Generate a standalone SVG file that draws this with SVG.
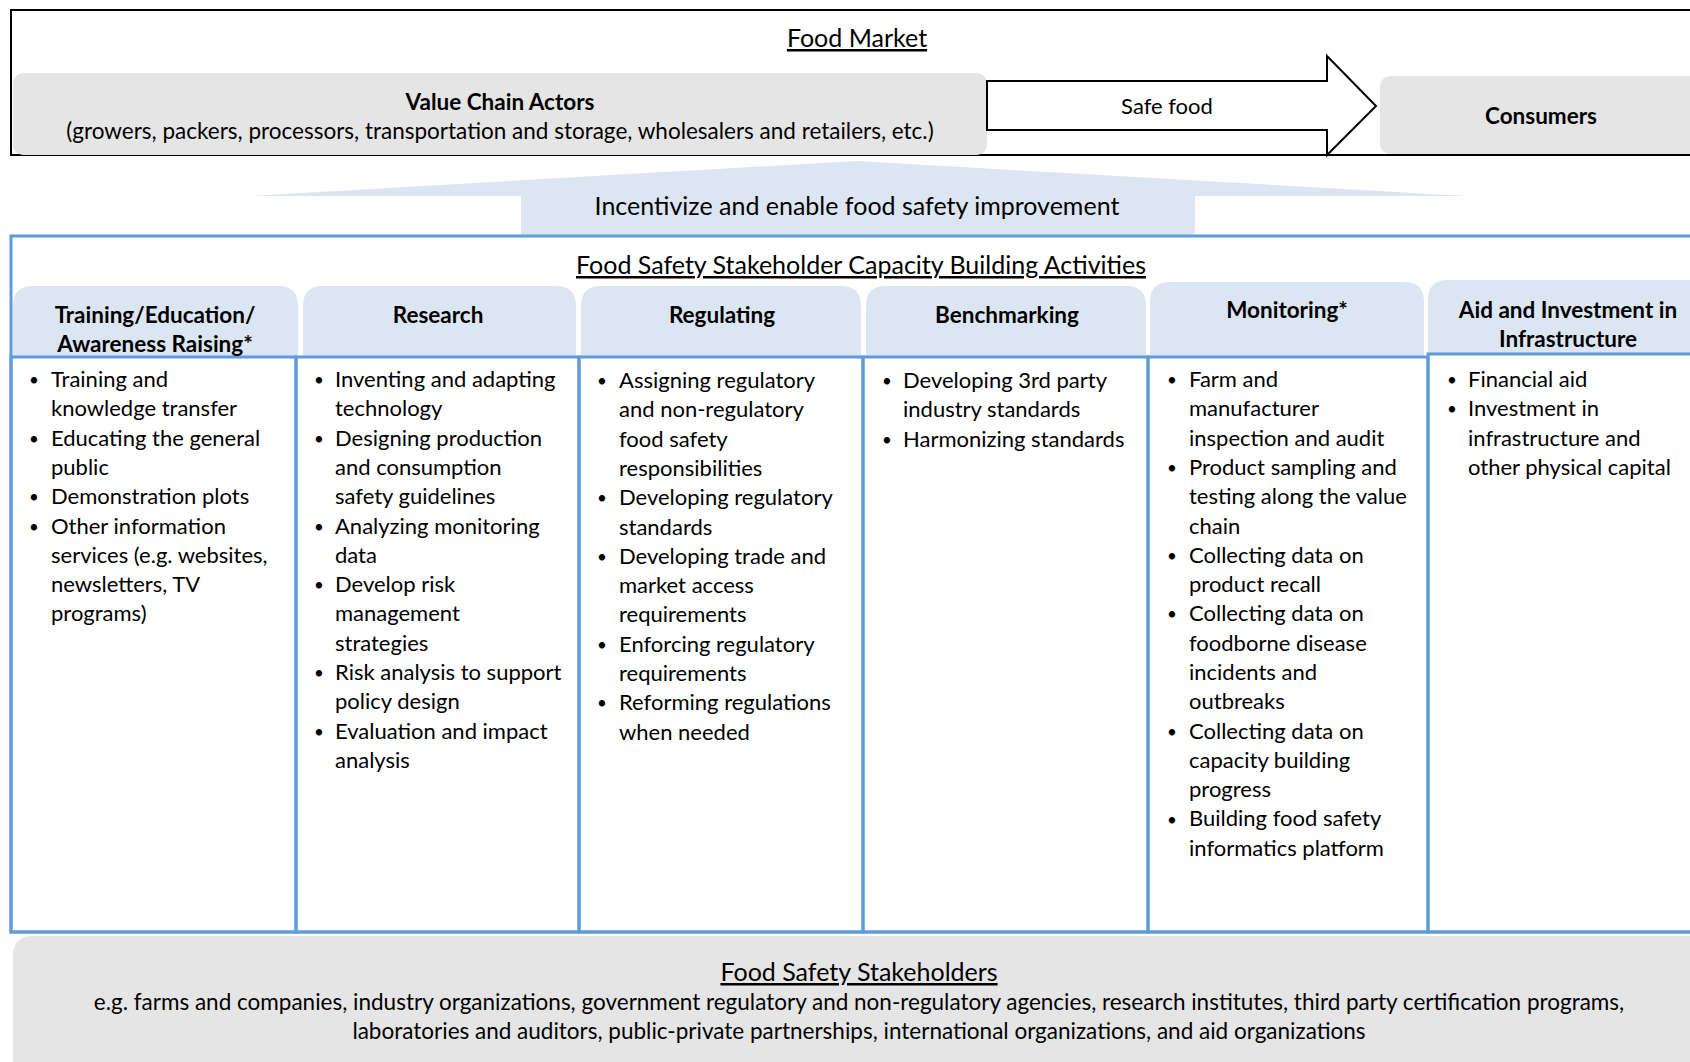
<svg xmlns="http://www.w3.org/2000/svg" width="1690" height="1062" viewBox="0 0 1690 1062">
<style>
text{font-family:Lato,"Liberation Sans",sans-serif;fill:#000}
.t{font-size:22px}
.b{font-size:17px}
.h{font-size:22.5px;font-weight:bold;text-anchor:middle}
.big{font-size:25px;text-anchor:middle}
.u{text-decoration:underline}
.mid{font-size:22.5px;text-anchor:middle}
.grey{fill:#e5e5e5}
.tab{fill:#dce6f2}
.box{fill:none;stroke:#5f9bd8;stroke-width:3}
</style>
<rect width="1690" height="1062" fill="#fff"/>

<g id="food-market">
<rect x="11" y="10" width="1700" height="145" fill="#fff" stroke="#000" stroke-width="2"/>
<text class="big u" x="857" y="47">Food Market</text>
</g>

<g id="value-chain-actors">
<rect class="grey" x="13" y="73" width="974" height="82" rx="10"/>
<text class="mid" x="500" y="110" font-weight="bold">Value Chain Actors</text>
<text class="mid" x="500" y="139">(growers, packers, processors, transportation and storage, wholesalers and retailers, etc.)</text>
</g>

<g id="consumers">
<rect class="grey" x="1380" y="76" width="330" height="78" rx="10"/>
<text class="h" x="1541" y="124">Consumers</text>
</g>

<g id="connectors">
<g id="safe-food">
<polygon points="987,81 1327,81 1327,56 1376,106 1327,155 1327,130 987,130" fill="#fff" stroke="#000" stroke-width="2" stroke-linejoin="miter"/>
<text class="t" x="1167" y="114" text-anchor="middle">Safe food</text>
</g>
<g id="incentivize">
<polygon points="250,196 857,161 1466,196 1195,196 1195,235 521,235 521,196" fill="#dce6f2"/>
<text class="big" x="857" y="215">Incentivize and enable food safety improvement</text>
</g>
</g>

<g id="capacity-activities">
<rect x="11" y="236" width="1700" height="696" fill="none" stroke="#5f9bd8" stroke-width="3"/>
<text class="big u" x="861" y="274">Food Safety Stakeholder Capacity Building Activities</text>
</g>

<g id="col-training">
<path class="tab" d="M13,357 V306 Q13,286 33,286 H278 Q298,286 298,306 V357 Z"/>
<rect class="box" x="11" y="357" width="285" height="575"/>
<text class="h" x="155" y="323">Training/Education/</text>
<text class="h" x="155" y="352">Awareness Raising*</text>
<text class="b" x="29" y="386">•<tspan x="29" dy="58.6">•</tspan><tspan x="29" dy="58.6">•</tspan><tspan x="29" dy="29.3">•</tspan></text>
<text class="t" x="51" y="387">Training and<tspan x="51" dy="29.3">knowledge transfer</tspan><tspan x="51" dy="29.3">Educating the general</tspan><tspan x="51" dy="29.3">public</tspan><tspan x="51" dy="29.3">Demonstration plots</tspan><tspan x="51" dy="29.3">Other information</tspan><tspan x="51" dy="29.3">services (e.g. websites,</tspan><tspan x="51" dy="29.3">newsletters, TV</tspan><tspan x="51" dy="29.3">programs)</tspan></text>
</g>

<g id="col-research">
<path class="tab" d="M303,357 V306 Q303,286 323,286 H556 Q576,286 576,306 V357 Z"/>
<rect class="box" x="296" y="357" width="283" height="575"/>
<text class="h" x="438" y="323">Research</text>
<text class="b" x="314" y="386">•<tspan x="314" dy="58.6">•</tspan><tspan x="314" dy="87.9">•</tspan><tspan x="314" dy="58.6">•</tspan><tspan x="314" dy="87.9">•</tspan><tspan x="314" dy="58.6">•</tspan></text>
<text class="t" x="335" y="387">Inventing and adapting<tspan x="335" dy="29.3">technology</tspan><tspan x="335" dy="29.3">Designing production</tspan><tspan x="335" dy="29.3">and consumption</tspan><tspan x="335" dy="29.3">safety guidelines</tspan><tspan x="335" dy="29.3">Analyzing monitoring</tspan><tspan x="335" dy="29.3">data</tspan><tspan x="335" dy="29.3">Develop risk</tspan><tspan x="335" dy="29.3">management</tspan><tspan x="335" dy="29.3">strategies</tspan><tspan x="335" dy="29.3">Risk analysis to support</tspan><tspan x="335" dy="29.3">policy design</tspan><tspan x="335" dy="29.3">Evaluation and impact</tspan><tspan x="335" dy="29.3">analysis</tspan></text>
</g>

<g id="col-regulating">
<path class="tab" d="M581,357 V306 Q581,286 601,286 H841 Q861,286 861,306 V357 Z"/>
<rect class="box" x="579" y="357" width="284" height="575"/>
<text class="h" x="722" y="323">Regulating</text>
<text class="b" x="597" y="387">•<tspan x="597" dy="117.2">•</tspan><tspan x="597" dy="58.6">•</tspan><tspan x="597" dy="87.9">•</tspan><tspan x="597" dy="58.6">•</tspan></text>
<text class="t" x="619" y="388">Assigning regulatory<tspan x="619" dy="29.3">and non-regulatory</tspan><tspan x="619" dy="29.3">food safety</tspan><tspan x="619" dy="29.3">responsibilities</tspan><tspan x="619" dy="29.3">Developing regulatory</tspan><tspan x="619" dy="29.3">standards</tspan><tspan x="619" dy="29.3">Developing trade and</tspan><tspan x="619" dy="29.3">market access</tspan><tspan x="619" dy="29.3">requirements</tspan><tspan x="619" dy="29.3">Enforcing regulatory</tspan><tspan x="619" dy="29.3">requirements</tspan><tspan x="619" dy="29.3">Reforming regulations</tspan><tspan x="619" dy="29.3">when needed</tspan></text>
</g>

<g id="col-benchmarking">
<path class="tab" d="M866,357 V306 Q866,286 886,286 H1126 Q1146,286 1146,306 V357 Z"/>
<rect class="box" x="863" y="357" width="285" height="575"/>
<text class="h" x="1007" y="323">Benchmarking</text>
<text class="b" x="882" y="387">•<tspan x="882" dy="58.6">•</tspan></text>
<text class="t" x="903" y="388">Developing 3rd party<tspan x="903" dy="29.3">industry standards</tspan><tspan x="903" dy="29.3">Harmonizing standards</tspan></text>
</g>

<g id="col-monitoring">
<path class="tab" d="M1150,357 V302 Q1150,282 1170,282 H1404 Q1424,282 1424,302 V357 Z"/>
<rect class="box" x="1148" y="357" width="280" height="575"/>
<text class="h" x="1287" y="318">Monitoring*</text>
<text class="b" x="1167" y="386">•<tspan x="1167" dy="87.9">•</tspan><tspan x="1167" dy="87.9">•</tspan><tspan x="1167" dy="58.6">•</tspan><tspan x="1167" dy="117.2">•</tspan><tspan x="1167" dy="87.9">•</tspan></text>
<text class="t" x="1189" y="387">Farm and<tspan x="1189" dy="29.3">manufacturer</tspan><tspan x="1189" dy="29.3">inspection and audit</tspan><tspan x="1189" dy="29.3">Product sampling and</tspan><tspan x="1189" dy="29.3">testing along the value</tspan><tspan x="1189" dy="29.3">chain</tspan><tspan x="1189" dy="29.3">Collecting data on</tspan><tspan x="1189" dy="29.3">product recall</tspan><tspan x="1189" dy="29.3">Collecting data on</tspan><tspan x="1189" dy="29.3">foodborne disease</tspan><tspan x="1189" dy="29.3">incidents and</tspan><tspan x="1189" dy="29.3">outbreaks</tspan><tspan x="1189" dy="29.3">Collecting data on</tspan><tspan x="1189" dy="29.3">capacity building</tspan><tspan x="1189" dy="29.3">progress</tspan><tspan x="1189" dy="29.3">Building food safety</tspan><tspan x="1189" dy="29.3">informatics platform</tspan></text>
</g>

<g id="col-aid">
<path class="tab" d="M1428,354 V300 Q1428,280 1448,280 H1720 V354 Z"/>
<rect class="box" x="1428" y="354" width="290" height="578"/>
<text class="h" x="1568" y="318">Aid and Investment in</text>
<text class="h" x="1568" y="347">Infrastructure</text>
<text class="b" x="1447" y="386">•<tspan x="1447" dy="29.3">•</tspan></text>
<text class="t" x="1468" y="387">Financial aid<tspan x="1468" dy="29.3">Investment in</tspan><tspan x="1468" dy="29.3">infrastructure and</tspan><tspan x="1468" dy="29.3">other physical capital</tspan></text>
</g>

<g id="stakeholders">
<path class="grey" d="M13,1070 V956 Q13,936 33,936 H1700 V1070 Z"/>
<text class="big u" x="859" y="981">Food Safety Stakeholders</text>
<text class="mid" x="859" y="1010">e.g. farms and companies, industry organizations, government regulatory and non-regulatory agencies, research institutes, third party certification programs,</text>
<text class="mid" x="859" y="1039">laboratories and auditors, public-private partnerships, international organizations, and aid organizations</text>
</g>
</svg>
